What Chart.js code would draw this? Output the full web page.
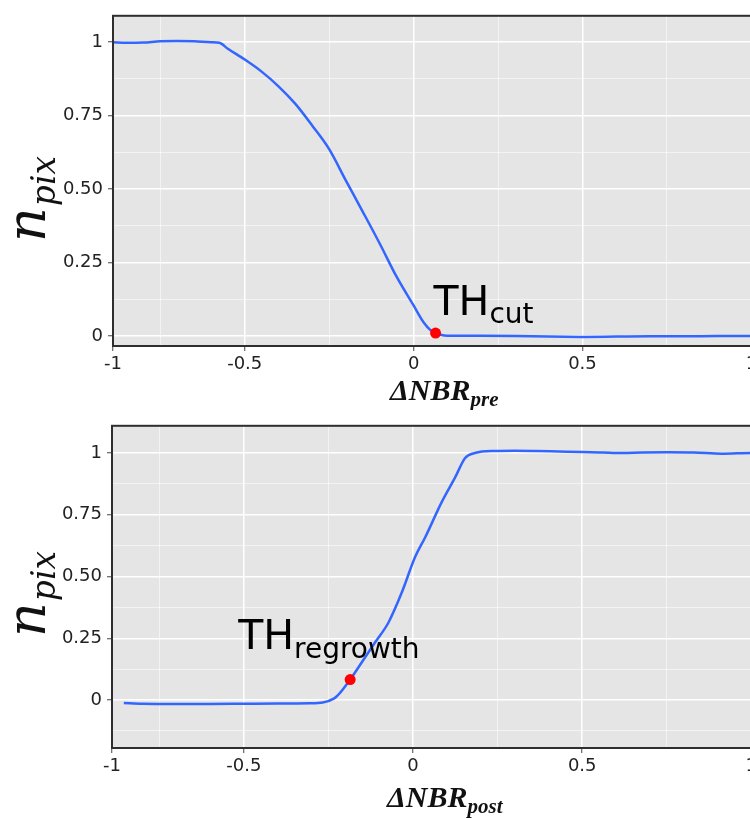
<!DOCTYPE html>
<html>
<head>
<meta charset="utf-8">
<script src="https://cdn.jsdelivr.net/npm/chart.js@4.4.1/dist/chart.umd.min.js"></script>
<style>
  html, body { margin: 0; padding: 0; background: #fff; overflow: hidden; }
  #wrap { position: relative; width: 750px; height: 818px; overflow: hidden; }
  canvas { position: absolute; left: 0; }
  #preChart { top: 0; }
  #postChart { top: 410px; }
</style>
</head>
<body>
<div id="wrap">
  <canvas id="preChart" width="790" height="410"></canvas>
  <canvas id="postChart" width="790" height="408"></canvas>
</div>
<script>
// upper panel: n_pix against dNBR pre
const preX = [-0.89, -0.85, -0.8, -0.75, -0.7, -0.65, -0.6, -0.575, -0.55, -0.5, -0.45, -0.4, -0.35, -0.3, -0.25,
  -0.2, -0.15, -0.1, -0.05, 0, 0.03, 0.05, 0.065, 0.08, 0.1, 0.2, 0.3, 0.4, 0.5, 0.6, 0.7, 0.8, 0.9, 1.0, 1.07];
const preY = [1.0, 0.998, 0.999, 1.003, 1.004, 1.003, 1.0, 0.998, 0.978, 0.941, 0.9, 0.85, 0.79, 0.716, 0.636,
  0.528, 0.422, 0.314, 0.201, 0.104, 0.046, 0.02, 0.01, 0.004, 0.001, 0.001, 0.0, -0.002, -0.003, -0.002, -0.001, -0.001, 0.0, 0.0, 0.0];

// lower panel: n_pix against dNBR post
const postX = [-0.855, -0.8, -0.7, -0.6, -0.5, -0.4, -0.305, -0.233, -0.186, -0.15, -0.112, -0.073, -0.034, 0.006,
  0.036, 0.085, 0.124, 0.154, 0.183, 0.243, 0.3, 0.36, 0.43, 0.5, 0.56, 0.618, 0.678, 0.754, 0.83, 0.914, 1.0, 1.07];
const postY = [-0.012, -0.015, -0.016, -0.016, -0.015, -0.014, -0.013, 0.007, 0.083, 0.156, 0.234, 0.313, 0.433, 0.579,
  0.659, 0.802, 0.9, 0.98, 1.0, 1.008, 1.009, 1.008, 1.006, 1.004, 1.002, 1.0, 1.002, 1.003, 1.002, 0.997, 1.0, 1.0];

// threshold points
const cutX = [0.065];
const cutY = [0.01];
const regrowthX = [-0.186];
const regrowthY = [0.083];

// axis ticks (empty label = minor grid line only)
const xTickValues = [-1, -0.75, -0.5, -0.25, 0, 0.25, 0.5, 0.75, 1];
const xTickLabels = ['-1', '', '-0.5', '', '0', '', '0.5', '', '1'];
const yTickValues = [-0.125, 0, 0.125, 0.25, 0.375, 0.5, 0.625, 0.75, 0.875, 1];
const yTickLabels = ['', '0', '', '0.25', '', '0.50', '', '0.75', '', '1'];

const tickFont = { family: 'DejaVu Sans', size: 18 };

function gridColor(ctx) {
  if (!ctx.tick) return 'rgba(0,0,0,0)';
  if (ctx.tick.value <= ctx.scale.min) return 'rgba(0,0,0,0)';
  return ctx.tick.label ? '#ffffff' : 'rgba(255,255,255,0.55)';
}
function gridWidth(ctx) {
  return ctx.tick && ctx.tick.label ? 1.5 : 1;
}
function tickColor(ctx) {
  return ctx.tick && ctx.tick.label ? '#444' : 'rgba(0,0,0,0)';
}

function makeScales(yMin, yMax, yWidth, xHeight) {
  return {
    x: {
      type: 'linear', min: -0.89, max: 1.07,
      afterBuildTicks: s => { s.ticks = xTickValues.map(v => ({ value: Math.max(v, s.min) })); },
      afterTickToLabelConversion: s => { s.ticks.forEach((t, i) => { t.label = xTickLabels[i]; }); },
      afterFit: s => { s.height = xHeight; },
      ticks: { autoSkip: false, maxRotation: 0, padding: 3, color: '#222', font: tickFont },
      grid: { color: gridColor, lineWidth: gridWidth, tickColor: tickColor, tickLength: 5, tickWidth: 1 },
      border: { display: false }
    },
    y: {
      type: 'linear', min: yMin, max: yMax,
      afterBuildTicks: s => {
        s.ticks = yTickValues.filter(v => v >= s.min && v <= s.max).map(v => ({ value: v }));
      },
      afterTickToLabelConversion: s => {
        s.ticks.forEach(t => { t.label = yTickLabels[yTickValues.indexOf(t.value)]; });
      },
      afterFit: s => { s.width = yWidth; },
      ticks: { autoSkip: false, padding: 5, color: '#222', font: tickFont },
      grid: { color: gridColor, lineWidth: gridWidth, tickColor: tickColor, tickLength: 5, tickWidth: 1 },
      border: { display: false }
    }
  };
}

// grey panel, dark frame, axis titles and threshold label
const panelPlugin = {
  id: 'panel',
  beforeDraw(chart) {
    const a = chart.chartArea, ctx = chart.ctx;
    ctx.save();
    ctx.fillStyle = '#e5e5e5';
    ctx.fillRect(a.left, a.top, a.right - a.left, a.bottom - a.top);
    ctx.restore();
  },
  afterDraw(chart, args, opts) {
    const a = chart.chartArea, ctx = chart.ctx;
    ctx.save();
    ctx.strokeStyle = '#2e2e2e';
    ctx.lineWidth = 2;
    ctx.strokeRect(a.left, a.top, a.right - a.left, a.bottom - a.top);

    ctx.fillStyle = '#111';
    ctx.textBaseline = 'alphabetic';
    ctx.textAlign = 'left';

    // y title n_pix
    ctx.save();
    ctx.translate(opts.yTitle[0], opts.yTitle[1]);
    ctx.rotate(-Math.PI / 2);
    ctx.font = 'italic 54px "DejaVu Serif"';
    ctx.fillText('n', 0, 0);
    const nw = ctx.measureText('n').width;
    ctx.font = 'italic 33px "DejaVu Serif"';
    ctx.fillText('pix', nw + 1, 10);
    ctx.restore();

    // x title
    ctx.font = 'italic bold 30px "Liberation Serif"';
    ctx.fillText('\u0394NBR', opts.xTitle[0], opts.xTitle[1]);
    const xw = ctx.measureText('\u0394NBR').width;
    ctx.font = 'italic bold 21px "Liberation Serif"';
    ctx.fillText(opts.xSub, opts.xTitle[0] + xw, opts.xTitle[1] + 6);

    // threshold label next to the red point
    const px = chart.scales.x.getPixelForValue(opts.thX);
    const py = chart.scales.y.getPixelForValue(opts.thY);
    ctx.fillStyle = '#000';
    ctx.font = '41px "DejaVu Sans"';
    const tx = px + opts.thOffset[0], ty = py + opts.thOffset[1];
    ctx.fillText('TH', tx, ty);
    const tw = ctx.measureText('TH').width;
    ctx.font = '28px "DejaVu Sans"';
    ctx.fillText(opts.thSub, tx + tw, ty + opts.thOffset[2]);
    ctx.restore();
  }
};

function makeChart(id, xs, ys, thx, thy, yMin, yMax, yWidth, xHeight, padTop, panelOpts) {
  return new Chart(document.getElementById(id), {
    type: 'line',
    data: {
      datasets: [
        {
          data: thx.map((x, i) => ({ x: x, y: thy[i] })),
          showLine: false,
          pointRadius: 5.5,
          pointBackgroundColor: '#ff0000',
          pointBorderWidth: 0,
          order: 0
        },
        {
          data: xs.map((x, i) => ({ x: x, y: ys[i] })),
          borderColor: '#3366ff',
          borderWidth: 2.5,
          pointRadius: 0,
          cubicInterpolationMode: 'monotone',
          fill: false,
          order: 1
        }
      ]
    },
    options: {
      responsive: false,
      animation: false,
      events: [],
      layout: { padding: { top: padTop, right: 15, left: 0, bottom: 0 } },
      scales: makeScales(yMin, yMax, yWidth, xHeight),
      plugins: {
        legend: { display: false },
        tooltip: { enabled: false },
        panel: panelOpts
      }
    },
    plugins: [panelPlugin]
  });
}

makeChart('preChart', preX, preY, cutX, cutY, -0.034, 1.09, 113, 64, 14, {
  yTitle: [45, 242], xTitle: [390, 400], xSub: 'pre',
  thX: cutX[0], thY: cutY[0], thSub: 'cut', thOffset: [-2, -18, 8]
});

makeChart('postChart', postX, postY, regrowthX, regrowthY, -0.194, 1.11, 112, 70, 9, {
  yTitle: [45, 227], xTitle: [387, 397], xSub: 'post',
  thX: regrowthX[0], thY: regrowthY[0], thSub: 'regrowth', thOffset: [-112, -31, 9]
});
</script>
</body>
</html>
